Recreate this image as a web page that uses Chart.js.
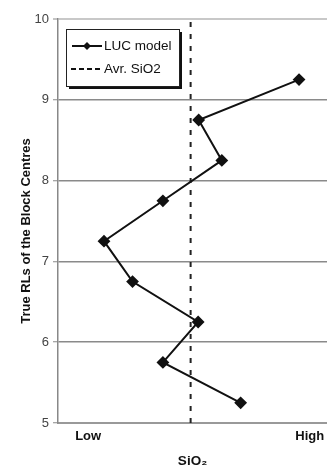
<!DOCTYPE html>
<html>
<head>
<meta charset="utf-8">
<script src="https://cdn.jsdelivr.net/npm/chart.js@4/dist/chart.umd.min.js"></script>
<style>
  html, body { margin: 0; padding: 0; background: #fff; }
  #wrap { width: 327px; height: 469px; position: relative; }
</style>
</head>
<body>
<div id="wrap"><canvas id="c" width="327" height="469"></canvas></div>
<script>
// Block centre reduced levels and relative SiO2 position (0 = low, 100 = high)
const blockRL = [9.25, 8.75, 8.25, 7.75, 7.25, 6.75, 6.25, 5.75, 5.25];
const sio2Level = [89.6, 52.3, 60.9, 39.0, 17.1, 27.7, 52.1, 39.0, 67.9];
const avgSio2 = 49.3;
const avgLineRL = [5, 10];
const xTickValues = [11.2, 93.6];
const xTickLabels = ['Low', 'High'];
const yTicks = [5, 6, 7, 8, 9, 10];
const seriesNames = ['LUC model', 'Avr. SiO2'];
const yTitle = 'True RLs of the Block Centres';

const lucPoints = blockRL.map((rl, i) => ({ x: sio2Level[i], y: rl }));
const avgPoints = avgLineRL.map(rl => ({ x: avgSio2, y: rl }));

const FONT = '"Liberation Sans", Arial, sans-serif';

// Boxed legend with drop shadow in the upper-left of the plot, plus the rotated y title
const boxLegend = {
  id: 'boxLegend',
  afterDraw(chart) {
    const { ctx, chartArea } = chart;
    const x = chartArea.left + 8, y = chartArea.top + 10, w = 113, h = 57;
    ctx.save();
    ctx.fillStyle = '#111';
    ctx.fillRect(x + 3, y + 3, w, h);
    ctx.fillStyle = '#fff';
    ctx.fillRect(x, y, w, h);
    ctx.strokeStyle = '#222';
    ctx.lineWidth = 1;
    ctx.strokeRect(x + 0.5, y + 0.5, w, h);

    ctx.font = '13.5px ' + FONT;
    ctx.fillStyle = '#111';
    ctx.textBaseline = 'middle';
    // entry 1: solid line with diamond marker
    const y1 = y + 17;
    ctx.strokeStyle = '#111';
    ctx.lineWidth = 2;
    ctx.setLineDash([]);
    ctx.beginPath(); ctx.moveTo(x + 6, y1); ctx.lineTo(x + 36, y1); ctx.stroke();
    ctx.beginPath();
    ctx.moveTo(x + 21, y1 - 4); ctx.lineTo(x + 25, y1); ctx.lineTo(x + 21, y1 + 4); ctx.lineTo(x + 17, y1);
    ctx.closePath(); ctx.fill();
    ctx.fillText(seriesNames[0], x + 38, y1);
    // entry 2: dashed line
    const y2 = y + 40;
    ctx.setLineDash([5, 3]);
    ctx.beginPath(); ctx.moveTo(x + 5, y2); ctx.lineTo(x + 36, y2); ctx.stroke();
    ctx.setLineDash([]);
    ctx.fillText(seriesNames[1], x + 38, y2);

    // y axis title
    ctx.translate(26, 231);
    ctx.rotate(-Math.PI / 2);
    ctx.font = 'bold 13px ' + FONT;
    ctx.textAlign = 'center';
    ctx.fillText(yTitle, 0, 0);
    ctx.restore();
  }
};

new Chart(document.getElementById('c'), {
  type: 'scatter',
  data: {
    datasets: [
      {
        label: seriesNames[0],
        data: lucPoints,
        showLine: true,
        borderColor: '#111',
        backgroundColor: '#111',
        borderWidth: 2,
        pointStyle: 'rectRot',
        pointRadius: 5,
        pointHoverRadius: 5,
        tension: 0
      },
      {
        label: seriesNames[1],
        data: avgPoints,
        showLine: true,
        borderColor: '#222',
        borderWidth: 2,
        borderDash: [5, 7],
        pointRadius: 0
      }
    ]
  },
  options: {
    responsive: false,
    animation: false,
    events: [],
    layout: { autoPadding: false, padding: { left: 0, right: 0, top: 19, bottom: 0 } },
    plugins: { legend: { display: false }, tooltip: { enabled: false } },
    scales: {
      x: {
        type: 'linear',
        min: 0,
        max: 100,
        afterBuildTicks(scale) { scale.ticks = xTickValues.map(v => ({ value: v })); },
        afterFit(scale) { scale.height = 46; scale.paddingLeft = 0; scale.paddingRight = 0; },
        ticks: {
          autoSkip: false,
          maxRotation: 0,
          padding: 6,
          color: '#111',
          font: { family: FONT, size: 13, weight: 'bold' },
          callback(v) { return xTickLabels[xTickValues.indexOf(v)]; }
        },
        grid: { display: false, drawTicks: false },
        border: { display: true, color: '#999', width: 2 },
        title: {
          display: true,
          text: 'SiO₂',
          color: '#111',
          padding: { top: 3, bottom: 0 },
          font: { family: FONT, size: 13.5, weight: 'bold' }
        }
      },
      y: {
        type: 'linear',
        min: 5,
        max: 10,
        afterBuildTicks(scale) { scale.ticks = yTicks.map(v => ({ value: v })); },
        afterFit(scale) { scale.width = 58; },
        ticks: {
          color: '#444',
          padding: 4,
          font: { family: FONT, size: 13 }
        },
        grid: {
          color: ctx => (ctx.tick && ctx.tick.value === 10) ? '#c8c8c8' : '#8a8a8a',
          lineWidth: ctx => (ctx.tick && ctx.tick.value === 10) ? 2 : 1.5,
          borderDash: ctx => (ctx.tick && ctx.tick.value === 10) ? [] : [2, 1],
          tickColor: '#888',
          tickLength: 5,
          tickWidth: 1,
          tickBorderDash: []
        },
        border: { display: true, color: '#888', width: 1.5 },
        title: { display: false }
      }
    }
  },
  plugins: [boxLegend]
});
</script>
</body>
</html>
